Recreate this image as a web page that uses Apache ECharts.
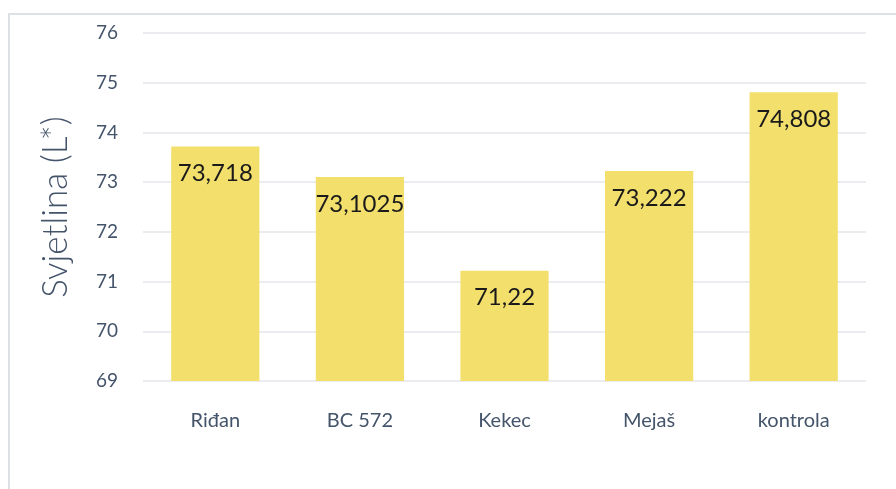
<!DOCTYPE html>
<html>
<head>
<meta charset="utf-8">
<script src="https://cdn.jsdelivr.net/npm/echarts@6/dist/echarts.min.js"></script>
<style>
  html, body { margin: 0; padding: 0; background: #fff; }
  #chart { width: 896px; height: 489px; }
</style>
</head>
<body>
<div id="chart"></div>
<script>
// podaci sa slike
var categories = ['Riđan', 'BC 572', 'Kekec', 'Mejaš', 'kontrola'];
var values = [73.718, 73.1025, 71.22, 73.222, 74.808];
var yTicks = [69, 70, 71, 72, 73, 74, 75, 76];

var font = 'Lato, "Noto Sans", sans-serif';
var myChart = echarts.init(document.getElementById('chart'));

var option = {
    animation: false,
    graphic: [{
        type: 'rect',
        shape: { x: 9, y: 14, width: 900, height: 500 },
        style: { fill: 'none', stroke: '#DDE1E6', lineWidth: 2 },
        silent: true
    }],
    grid: {
        left: 143,
        right: 30,
        top: 33,
        bottom: 108
    },
    xAxis: {
        type: 'category',
        data: categories,
        axisLine: { show: false },
        axisTick: { show: false },
        axisLabel: {
            margin: 30,
            fontSize: 20,
            fontFamily: font,
            color: '#44546A'
        }
    },
    yAxis: {
        type: 'value',
        min: yTicks[0],
        max: yTicks[yTicks.length - 1],
        interval: 1,
        name: 'Svjetlina (L*)',
        nameLocation: 'middle',
        nameGap: 70,
        nameTextStyle: {
            fontSize: 35,
            fontWeight: 300,
            fontFamily: font,
            color: '#44546A'
        },
        axisLine: { show: false },
        axisTick: { show: false },
        axisLabel: {
            margin: 25,
            fontSize: 19,
            fontFamily: font,
            color: '#44546A'
        },
        splitLine: {
            lineStyle: { color: '#E3E6EB', width: 1.5 }
        }
    },
    series: [{
        type: 'bar',
        data: values,
        barWidth: '61%',
        itemStyle: { color: '#F3DF6C' },
        label: {
            show: true,
            position: 'insideTop',
            distance: 15,
            fontSize: 24,
            fontFamily: font,
            color: '#1A1A1A',
            formatter: function(p) {
                return String(p.value).replace('.', ',');
            }
        }
    }]
};
myChart.setOption(option);
</script>
</body>
</html>
